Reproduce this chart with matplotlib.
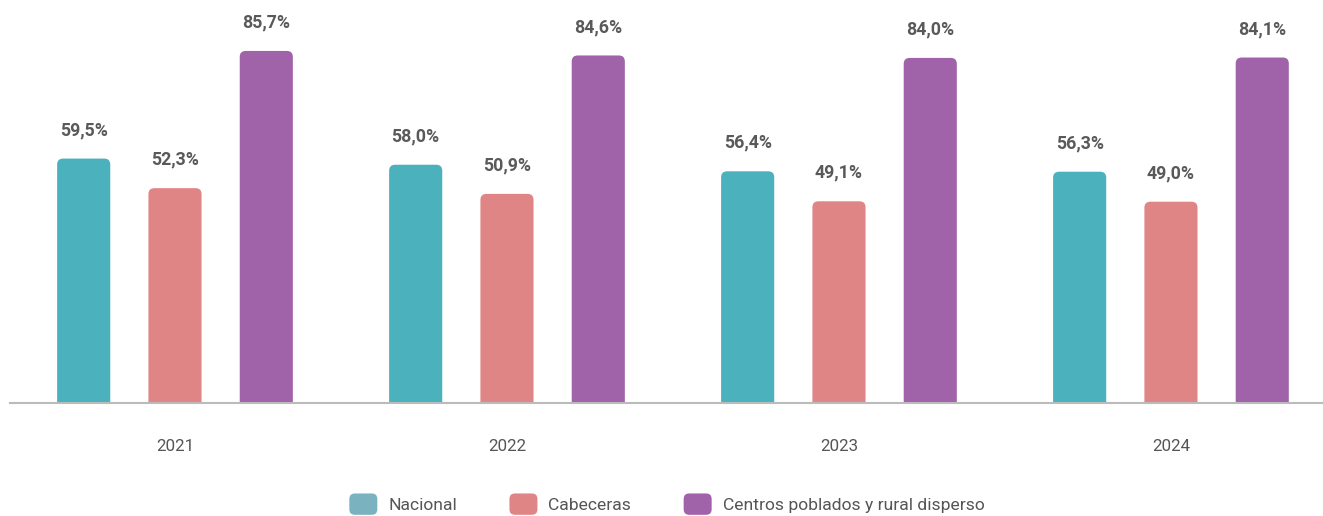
import matplotlib
matplotlib.use("Agg")
import matplotlib.pyplot as plt
from matplotlib.patches import FancyBboxPatch
from matplotlib.legend_handler import HandlerPatch
import numpy as np

years = ["2021", "2022", "2023", "2024"]
series = ["Nacional", "Cabeceras", "Centros poblados y rural disperso"]
nacional = [59.5, 58.0, 56.4, 56.3]
cabeceras = [52.3, 50.9, 49.1, 49.0]
centros = [85.7, 84.6, 84.0, 84.1]
values = [nacional, cabeceras, centros]
colors = ["#4bb1bc", "#e08585", "#a062a8"]
legend_colors = ["#7ab3bf", "#e08585", "#a062a8"]

plt.rcParams['font.family'] = ['Roboto', 'DejaVu Sans']

fig = plt.figure(figsize=(13.23, 5.16), dpi=100)
ax = fig.add_axes([10/1323, 113/516, 1 - 10/1323, 403/516])

x = np.arange(len(years))
offsets = [-0.275, 0.0, 0.275]
width = 0.16
ax.set_xlim(-0.497, 3.458)
ax.set_ylim(0, 98.1)

rad_x = 0.018
aspect = (1.46 / 0.018)
for vals, off, col in zip(values, offsets, colors):
    bars = ax.bar(x + off, vals, width=width, color=col)
    for b, v in zip(bars, vals):
        x0, w, h = b.get_x(), b.get_width(), b.get_height()
        b.remove()
        p = FancyBboxPatch((x0 + rad_x, -5), w - 2 * rad_x, h + 5 - rad_x * aspect,
                           boxstyle=f"round,pad={rad_x},rounding_size={rad_x}",
                           mutation_aspect=aspect, facecolor=col, edgecolor="none",
                           clip_on=True)
        ax.add_patch(p)
        ax.annotate(f"{v:.1f}%".replace(".", ","), (x0 + w / 2, v),
                    xytext=(0, 14), textcoords="offset points",
                    ha="center", va="bottom", fontsize=12.8, fontweight="bold",
                    color="#595959")

for s in ["top", "right", "left"]:
    ax.spines[s].set_visible(False)
ax.spines["bottom"].set_color("#bbbbbb")
ax.spines["bottom"].set_linewidth(1.5)
ax.set_yticks([])
ax.set_xticks(x)
ax.set_xticklabels(years, fontsize=12.2, color="#555555")
ax.tick_params(axis="x", length=0, pad=26)


class RoundHandler(HandlerPatch):
    def create_artists(self, legend, orig_handle, xdescent, ydescent, width, height, fontsize, trans):
        r = 4
        p = FancyBboxPatch((-xdescent + r, -ydescent + r), width - 2 * r, height - 2 * r,
                           boxstyle=f"round,pad={r},rounding_size={r}",
                           facecolor=orig_handle.get_facecolor(), edgecolor="none",
                           transform=trans)
        return [p]


handles = [FancyBboxPatch((0, 0), 1, 1, facecolor=c) for c in legend_colors]
fig.legend(handles, series, loc="center", bbox_to_anchor=(0.504, 0.023),
           ncol=3, frameon=False, fontsize=12.6, labelcolor="#555555",
           handlelength=1.6, handleheight=1.5, handletextpad=0.62, columnspacing=3.0,
           handler_map={FancyBboxPatch: RoundHandler()})

fig.savefig("out.png", dpi=100)
